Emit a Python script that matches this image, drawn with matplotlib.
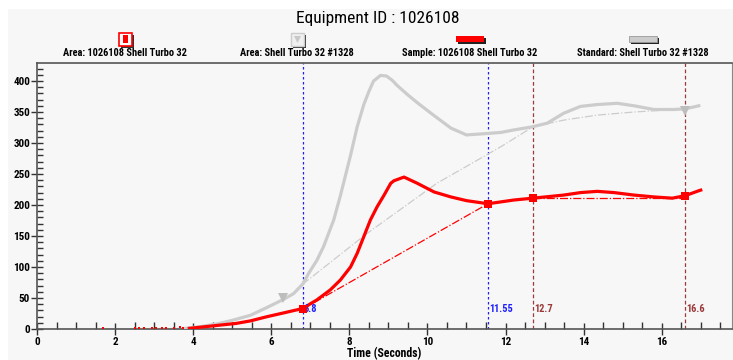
import matplotlib
matplotlib.use("Agg")
import matplotlib.pyplot as plt
import numpy as np
from matplotlib.patches import Rectangle, Polygon

plt.rcParams['font.family'] = ['Roboto Condensed', 'DejaVu Sans']

W, H = 733, 360

# ---- data ----
sample_t = [3.9, 4.2, 4.5, 4.8, 5.1, 5.46, 5.9, 6.32, 6.8, 7.17, 7.51, 7.77, 8.03,
            8.2, 8.37, 8.54, 8.71, 8.89, 9.06, 9.14, 9.31, 9.4, 9.74, 10.17, 10.6,
            11.0, 11.55, 12.21, 12.7, 13.49, 13.92, 14.35, 14.78, 15.29, 15.8,
            16.27, 16.6, 16.95, 17.0]
sample_v = [1, 3, 5, 7, 9, 13, 20, 26, 33, 47, 63, 79, 100,
            122, 149, 176, 197, 216, 235, 239, 243, 245, 235, 221, 213,
            207, 202, 208, 211, 216, 220, 222, 220, 216, 213,
            211, 215, 223, 224]

standard_t = [3.8, 4.2, 4.6, 5.0, 5.46, 5.9, 6.32, 6.57, 6.8, 6.96, 7.17, 7.34,
              7.6, 7.77, 8.03, 8.2, 8.37, 8.5, 8.62, 8.8, 8.95, 9.1, 9.22, 9.49,
              9.74, 10.09, 10.6, 11.0, 11.46, 11.88, 12.21, 12.68, 13.07, 13.49,
              13.92, 14.35, 14.86, 15.29, 15.8, 16.3, 16.6, 16.95]
standard_v = [1, 4, 8, 14, 22, 35, 48, 57, 72, 90, 111, 133,
              176, 215, 280, 326, 362, 383, 400, 409, 408, 401, 393, 378,
              365, 348, 324, 313, 315, 317, 321, 326, 332, 348,
              359, 362, 364, 360, 354, 354, 355, 360]

# early noisy sample points near zero
noise_t = [1.7, 2.5, 2.6, 2.75, 2.95, 3.05, 3.2, 3.3, 3.5, 3.65, 3.75]
noise_v = [1, 1, 1.5, 1, 1.5, 2, 2, 1.5, 2, 3, 2]

# area baselines (dash-dot)
red_base1_t = [6.8, 11.55]
red_base1_v = [32, 202]
red_base2_t = [12.7, 16.6]
red_base2_v = [211, 211]
gray_base1_t = [6.8, 8.45, 10.24, 11.88, 12.7]
gray_base1_v = [72, 154, 235, 294, 326]
gray_base2_t = [12.7, 13.5, 14.35, 15.3, 16.6]
gray_base2_v = [326, 337, 345, 350, 355]

# markers
red_mark_t = [6.8, 11.55, 12.7, 16.6]
red_mark_v = [33, 202, 211, 215]
gray_mark_t = [6.3, 16.6]
gray_mark_v = [50, 352]

blue_lines = [6.8, 11.55]
blue_labels = ["6.8", "11.55"]
brown_lines = [12.7, 16.6]
brown_labels = ["12.7", "16.6"]

legend_labels = ["Area: 1026108 Shell Turbo 32", "Area: Shell Turbo 32 #1328",
                 "Sample: 1026108 Shell Turbo 32", "Standard: Shell Turbo 32 #1328"]

BG = "#f7f7f7"
RED = "#ff0000"
GRAY = "#cccccc"
BLUE = "#2020ff"
BROWN = "#9b3a3a"

fig = plt.figure(figsize=(W / 100, H / 100), dpi=100, facecolor="white")

def fx(px):
    return px / W

def fy(py):
    return 1 - py / H

# light panel behind everything
fig.add_artist(Rectangle((fx(8), 0), 1 - fx(8), fy(9), transform=fig.transFigure,
                         facecolor=BG, edgecolor="none", zorder=0))

ax = fig.add_axes([fx(37), fy(329), fx(732) - fx(37), fy(63) - fy(329)])
ax.set_facecolor(BG)
ax.set_xlim(0, 17.8)
ax.set_ylim(0, 429)

# vertical markers
for x, lab in zip(blue_lines, blue_labels):
    ax.axvline(x, color=BLUE, lw=0.9, ls=(0, (2, 2)), zorder=2)
    ax.text(x + 0.03, 33, lab, color=BLUE, fontsize=7.5, fontweight="bold",
            va="center", ha="left", zorder=6)
for x, lab in zip(brown_lines, brown_labels):
    ax.axvline(x, color=BROWN, lw=0.9, ls=(0, (3, 2)), zorder=2)
    ax.text(x + 0.03, 33, lab, color=BROWN, fontsize=7.5, fontweight="bold",
            va="center", ha="left", zorder=6)

# baselines
ax.plot(gray_base1_t, gray_base1_v, color=GRAY, lw=0.9, ls="-.", zorder=3)
ax.plot(gray_base2_t, gray_base2_v, color=GRAY, lw=0.9, ls="-.", zorder=3)
ax.plot(red_base1_t, red_base1_v, color=RED, lw=0.9, ls="-.", zorder=3)
ax.plot(red_base2_t, red_base2_v, color=RED, lw=0.9, ls="-.", zorder=3)

# curves
ax.plot(standard_t, standard_v, color=GRAY, lw=2.3, zorder=4)
ax.plot(sample_t, sample_v, color=RED, lw=2.3, zorder=5)
ax.plot(noise_t, noise_v, ls="none", marker="s", ms=1.8, color=RED, mew=0, zorder=5)

ax.plot(gray_mark_t, gray_mark_v, ls="none", marker="v", ms=7, color="#bdbdbd", mew=0, zorder=5)
ax.plot(red_mark_t, red_mark_v, ls="none", marker="s", ms=6, color=RED, mew=0, zorder=6)

# axes style
ax.set_xticks(np.arange(0, 17, 2))
ax.set_xticks(np.arange(0, 17.8, 0.5), minor=True)
ax.set_yticks(np.arange(0, 401, 50))
ax.set_yticks(np.arange(0, 429, 10), minor=True)
ax.tick_params(axis="x", which="major", direction="inout", length=9, width=1,
               color="#333333", labelsize=8, pad=1)
ax.tick_params(axis="x", which="minor", direction="in", length=5, width=1, color="#333333")
ax.tick_params(axis="y", which="major", direction="inout", length=8, width=1,
               color="#333333", labelsize=8, pad=1)
ax.tick_params(axis="y", which="minor", direction="in", length=4, width=1, color="#333333")
for lab in ax.get_xticklabels() + ax.get_yticklabels():
    lab.set_fontweight("bold")
for s in ["left", "top", "bottom"]:
    ax.spines[s].set_color("#555555")
    ax.spines[s].set_linewidth(1.2)
ax.spines["right"].set_color("#888888")
ax.set_xlabel("Time (Seconds)", fontsize=8.5, fontweight="bold", labelpad=0)

# title
fig.text(fx(378), fy(18), "Equipment ID : 1026108", fontsize=12.5,
         ha="center", va="center")

# legend drawn by hand
cx = [125, 297, 470, 643]
for x, lab in zip(cx, legend_labels):
    fig.text(fx(x), fy(53), lab, fontsize=7.5, fontweight="bold", ha="center", va="center")

def rect(x0, y0, w, h, **kw):
    # pixel box given from top-left corner
    fig.add_artist(Rectangle((fx(x0), fy(y0 + h)), w / W, h / H,
                             transform=fig.transFigure, **kw))

# area sample icon
rect(121, 35, 13, 13, facecolor="#333333", edgecolor="none")
rect(119, 33, 13, 13, facecolor="white", edgecolor=RED, lw=1.2)
rect(123, 35, 5, 8, facecolor=RED, edgecolor="none")
# area standard icon
rect(293, 35, 13, 13, facecolor="#333333", edgecolor="none")
rect(291, 33, 13, 13, facecolor="#f0f0f0", edgecolor="#cccccc", lw=1)
fig.add_artist(Polygon([(fx(294), fy(36)), (fx(301), fy(36)), (fx(297.5), fy(43))],
                       closed=True, transform=fig.transFigure,
                       facecolor="#c8c8c8", edgecolor="none"))
# sample line icon
rect(458, 38, 28, 6, facecolor="#222222", edgecolor="none")
rect(456, 36, 28, 6, facecolor=RED, edgecolor="none")
# standard line icon
rect(631, 38, 28, 6, facecolor="#222222", edgecolor="none")
rect(629, 36, 28, 6, facecolor=GRAY, edgecolor="#999999", lw=0.6)

fig.savefig("out.png", dpi=100, facecolor="white")
